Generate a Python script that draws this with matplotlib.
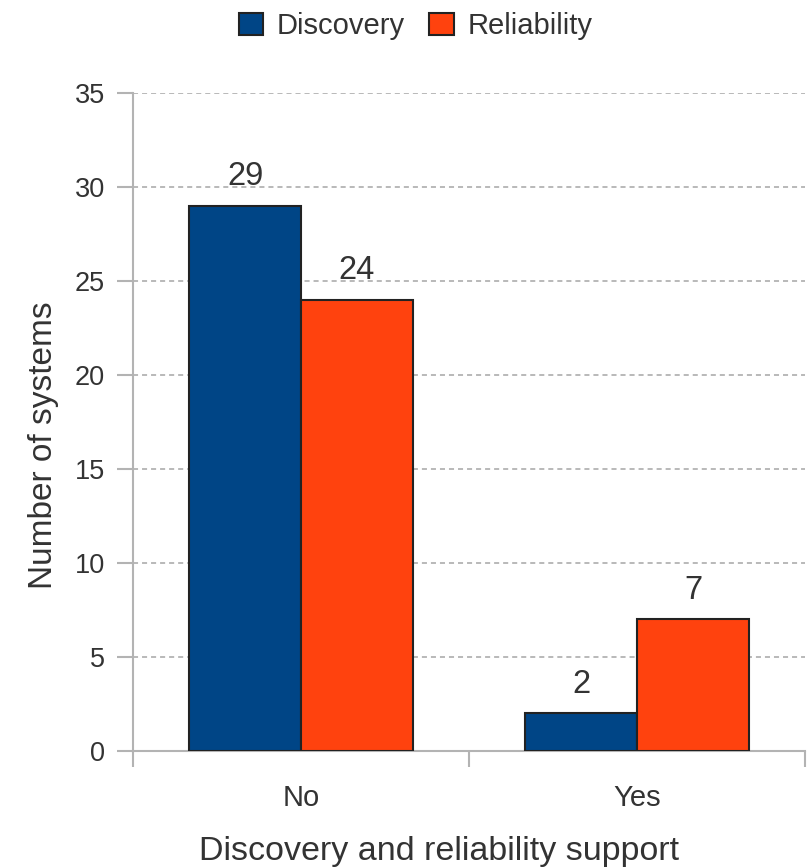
import matplotlib
matplotlib.use("Agg")
import matplotlib.pyplot as plt
import numpy as np

categories = ["No", "Yes"]
discovery = [29, 2]
reliability = [24, 7]
series_names = ["Discovery", "Reliability"]
yticks = [0, 5, 10, 15, 20, 25, 30, 35]

plt.rcParams['font.family'] = ['Liberation Sans', 'DejaVu Sans']
txt = '#333333'
grid_c = '#b3b3b3'

W, H = 812, 867
fig = plt.figure(figsize=(W/100, H/100), dpi=100)
ax = fig.add_axes([133/W, 116/H, 672/W, 658/H])

x = np.arange(len(categories)) + 0.5
w = 0.333
b1 = ax.bar(x - w/2, discovery, w, color='#004586', edgecolor='#222222', linewidth=1.5, label=series_names[0], zorder=3)
b2 = ax.bar(x + w/2, reliability, w, color='#ff420e', edgecolor='#222222', linewidth=1.5, label=series_names[1], zorder=3)

for bars, vals in ((b1, discovery), (b2, reliability)):
    for r, v in zip(bars, vals):
        ax.annotate(str(v), (r.get_x() + r.get_width()/2, v), xytext=(0, 15),
                    textcoords='offset points', ha='center', va='baseline',
                    fontsize=23.5, color=txt)

ax.set_xlim(0, 2)
ax.set_ylim(0, 35)
ax.set_yticks(yticks)
ax.set_xticks([0, 1, 2])
ax.set_xticklabels([])
ax.set_xticks(x, minor=True)
ax.set_xticklabels(categories, minor=True)
ax.tick_params(axis='x', which='minor', length=0, pad=24, labelsize=21, labelcolor=txt)
ax.tick_params(axis='x', which='major', length=11.5, width=1.5, color=grid_c, direction='out')
ax.tick_params(axis='y', length=11.5, width=1.5, color=grid_c, direction='out', labelsize=19.5, labelcolor=txt, pad=8.6)

for s in ['top', 'right']:
    ax.spines[s].set_visible(False)
for s in ['left', 'bottom']:
    ax.spines[s].set_color(grid_c)
    ax.spines[s].set_linewidth(1.5)

ax.yaxis.grid(True, linestyle=(0, (2.8, 2.2)), color=grid_c, linewidth=1.3, zorder=0)
ax.set_axisbelow(True)

fig.text(439/W, 7/H, "Discovery and reliability support", fontsize=24.5, color=txt,
         ha='center', va='baseline')
fig.text(52/W, (H - 445)/H, "Number of systems", fontsize=24, color=txt, rotation=90,
         rotation_mode='anchor', ha='center', va='baseline')

leg = fig.legend(handles=[b1, b2], labels=series_names, loc='center',
                 bbox_to_anchor=(415.5/W, 1 - 26/H), ncol=2, frameon=False, fontsize=21,
                 handlelength=0.85, handleheight=0.8, handletextpad=0.45, columnspacing=0.85,
                 borderpad=0)
for t in leg.get_texts():
    t.set_color(txt)

fig.savefig("out.png", dpi=100)
